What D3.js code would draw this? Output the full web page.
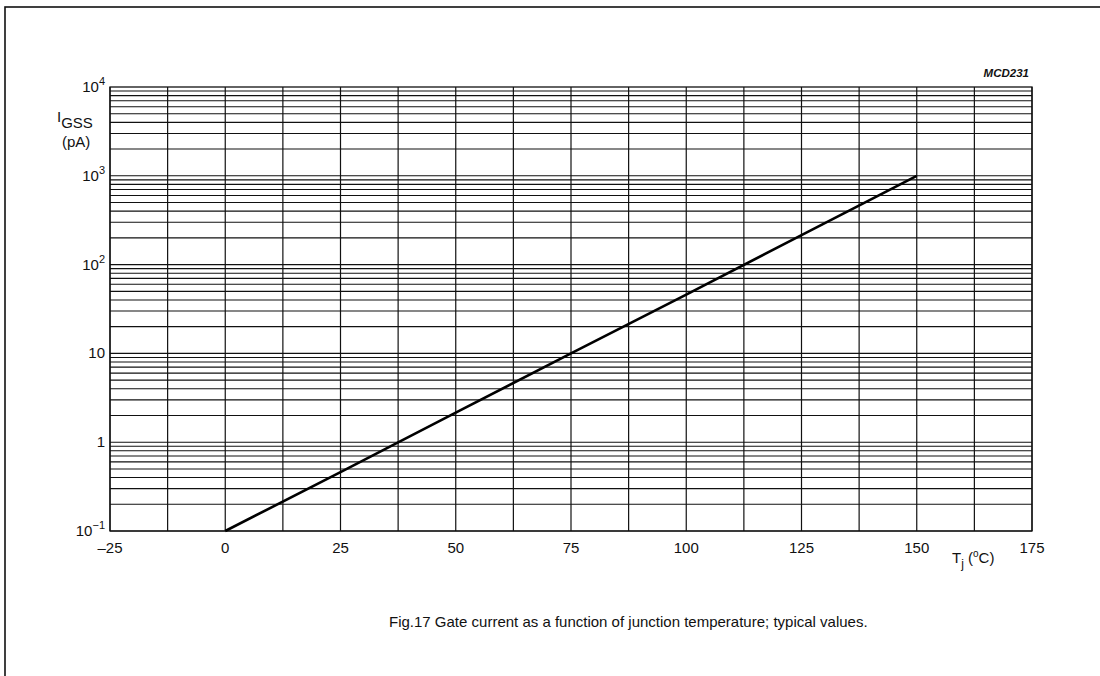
<!DOCTYPE html>
<html>
<head>
<meta charset="utf-8">
<script src="https://cdn.jsdelivr.net/npm/d3@7"></script>
<style>
  body { margin: 0; background: #fff; }
  text { font-family: "Liberation Sans", Arial, sans-serif; fill: #111; }
</style>
</head>
<body>
<div id="chart"></div>
<script>
// typical values
const temps = [0, 25, 50, 75, 100, 125, 150];
const igss = [0.1, 0.46, 2.15, 10, 46, 215, 1000];

const xTicks = [-25, 0, 25, 50, 75, 100, 125, 150, 175];
const yTicks = [0.1, 1, 10, 100, 1000, 10000];
const yTickLabels = [["10", "\u22121"], ["1", ""], ["10", ""], ["10", "2"], ["10", "3"], ["10", "4"]];

const W = 1100, H = 676;
const plotLeft = 110, plotRight = 1032, plotTop = 87, plotBottom = 531;

const svg = d3.select('#chart')
  .append('svg')
  .attr('width', W)
  .attr('height', H);

// page frame
svg.append('rect')
  .attr('x', 5).attr('y', 7)
  .attr('width', W + 10).attr('height', H + 10)
  .attr('fill', 'none')
  .attr('stroke', '#111')
  .attr('stroke-width', 1.6);

let x = d3.scaleLinear().domain([-25, 175]).range([plotLeft, plotRight]);
let y = d3.scaleLog().domain([0.1, 10000]).range([plotBottom, plotTop]);

// horizontal grid: 1..9 in each decade
let hLines = [];
for (let e = -1; e < 4; e++) {
  for (let m = 1; m < 10; m++) hLines.push(m * Math.pow(10, e));
}
svg.append('g')
  .selectAll('line')
  .data(hLines)
  .enter()
  .append('line')
  .attr('x1', plotLeft).attr('x2', plotRight)
  .attr('y1', d => y(d)).attr('y2', d => y(d))
  .attr('stroke', '#111')
  .attr('stroke-width', 1.1);

// vertical grid every 12.5 degrees
let vLines = d3.range(-25, 175.1, 12.5);
svg.append('g')
  .selectAll('line')
  .data(vLines)
  .enter()
  .append('line')
  .attr('x1', d => x(d)).attr('x2', d => x(d))
  .attr('y1', plotTop).attr('y2', plotBottom)
  .attr('stroke', '#111')
  .attr('stroke-width', 1.2);

svg.append('rect')
  .attr('x', plotLeft).attr('y', plotTop)
  .attr('width', plotRight - plotLeft).attr('height', plotBottom - plotTop)
  .attr('fill', 'none')
  .attr('stroke', '#111')
  .attr('stroke-width', 1.3);

// the curve
let line = d3.line()
  .x((d, i) => x(temps[i]))
  .y(d => y(d));
svg.append('path')
  .datum(igss)
  .attr('d', line)
  .attr('fill', 'none')
  .attr('stroke', '#000')
  .attr('stroke-width', 2.6);

// x tick labels
svg.append('g')
  .selectAll('text')
  .data(xTicks)
  .enter()
  .append('text')
  .attr('x', d => x(d))
  .attr('y', 553)
  .attr('text-anchor', 'middle')
  .attr('font-size', 15)
  .text(d => d < 0 ? '\u2013' + Math.abs(d) : d);

// y tick labels with superscripts
let yl = svg.append('g')
  .selectAll('text')
  .data(yTicks)
  .enter()
  .append('text')
  .attr('x', 105)
  .attr('y', d => y(d) + 5)
  .attr('text-anchor', 'end')
  .attr('font-size', 15);
yl.append('tspan').text((d, i) => yTickLabels[i][0]);
yl.append('tspan')
  .attr('dy', -7)
  .attr('font-size', 11)
  .text((d, i) => yTickLabels[i][1]);

// y axis title
let yt = svg.append('text')
  .attr('x', 57).attr('y', 128)
  .attr('font-size', 15);
yt.append('tspan').attr('dy', -6).text('I');
yt.append('tspan').attr('dy', 6).text('GSS');
svg.append('text')
  .attr('x', 62).attr('y', 147)
  .attr('font-size', 15)
  .text('(pA)');

// x axis title
let xt = svg.append('text')
  .attr('x', 952).attr('y', 563)
  .attr('font-size', 15);
xt.append('tspan').text('T');
xt.append('tspan').attr('dy', 5).attr('font-size', 12).text('j');
xt.append('tspan').attr('dy', -5).text(' (');
xt.append('tspan').attr('dy', -6).attr('font-size', 10).text('o');
xt.append('tspan').attr('dy', 6).text('C)');

svg.append('text')
  .attr('x', 1029).attr('y', 77)
  .attr('text-anchor', 'end')
  .attr('font-size', 11.5)
  .attr('font-style', 'italic')
  .attr('font-weight', 'bold')
  .text('MCD231');

svg.append('text')
  .attr('x', 389).attr('y', 627)
  .attr('font-size', 15)
  .text('Fig.17  Gate current as a function of junction temperature; typical values.');
</script>
</body>
</html>
